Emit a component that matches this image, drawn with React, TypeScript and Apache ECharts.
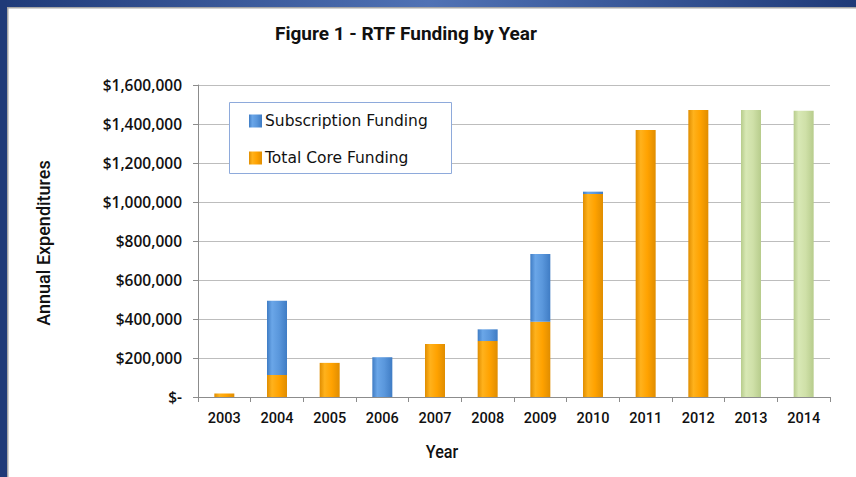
import React, { useEffect, useRef } from "react";
import * as echarts from "echarts";

const years = ["2003", "2004", "2005", "2006", "2007", "2008", "2009", "2010", "2011", "2012", "2013", "2014"];
const coreFunding = [18000, 113000, 175000, 0, 272000, 287000, 386000, 1041000, 1369000, 1472000, 1472000, 1468000];
const subscriptionFunding = [0, 381000, 0, 204000, 0, 60000, 347000, 12000, 0, 0, 0, 0];
const projectedYears = ["2013", "2014"];
const yTicks = { min: 0, max: 1600000, interval: 200000 };

const grad = (edge: string, mid: string, light: string) =>
  new echarts.graphic.LinearGradient(0, 0, 1, 0, [
    { offset: 0, color: edge },
    { offset: 0.25, color: light },
    { offset: 0.6, color: mid },
    { offset: 1, color: edge },
  ]);

export default function App() {
  const ref = useRef<HTMLDivElement>(null);
  useEffect(() => {
    if (!ref.current) return;
    const chart = echarts.init(ref.current, undefined, { renderer: "svg" });
    const orange = grad("#e08d00", "#ffa200", "#ffb21c");
    const blue = grad("#3f7cc4", "#5a97dc", "#6aa6e8");
    const green = grad("#b7cc8c", "#cfe0a8", "#d8e8b5");
    const coreData = coreFunding.map((v, i) =>
      projectedYears.includes(years[i]) ? { value: v, itemStyle: { color: green } } : v
    );
    const font = "Roboto, sans-serif";
    chart.setOption({
      animation: false,
      backgroundColor: "#ffffff",
      grid: { left: 198, right: 26, top: 85, bottom: 80 },
      legend: {
        orient: "vertical",
        left: 244,
        top: 108,
        itemWidth: 13,
        itemHeight: 13,
        itemGap: 21,
        icon: "rect",
        z: 6,
        data: ["Subscription Funding", "Total Core Funding"],
        textStyle: { fontFamily: "DejaVu Sans", fontSize: 15.5, color: "#111", padding: [0, 0, 0, -2], lineHeight: 16 },
      },
      xAxis: {
        type: "category",
        data: years,
        axisLine: { lineStyle: { color: "#8c8c8c" } },
        axisTick: { show: true, length: 5, lineStyle: { color: "#8c8c8c" } },
        axisLabel: { fontFamily: font, fontWeight: 500, fontSize: 14.5, color: "#111", margin: 14 },
      },
      yAxis: {
        type: "value",
        min: yTicks.min,
        max: yTicks.max,
        interval: yTicks.interval,
        axisLine: { show: true, lineStyle: { color: "#8c8c8c" } },
        axisTick: { show: true, length: 5, lineStyle: { color: "#8c8c8c" } },
        splitLine: { lineStyle: { color: "#bdbdbd", width: 1 } },
        axisLabel: {
          fontFamily: "'Open Sans', sans-serif",
          fontWeight: 600,
          fontSize: 15.5,
          color: "#111",
          margin: 16,
          formatter: (v: number) => (v === 0 ? "$-" : "$" + v.toLocaleString("en-US")),
        },
      },
      series: [
        {
          name: "Total Core Funding",
          type: "bar",
          stack: "total",
          barWidth: 20,
          color: orange,
          itemStyle: { color: orange },
          data: coreData,
        },
        {
          name: "Subscription Funding",
          type: "bar",
          stack: "total",
          barWidth: 20,
          color: blue,
          itemStyle: { color: blue },
          data: subscriptionFunding,
        },
      ],
      graphic: [
        {
          type: "rect",
          shape: { x: 0, y: 0, width: 856, height: 7 },
          style: {
            fill: new echarts.graphic.LinearGradient(0, 0, 1, 0, [
              { offset: 0, color: "#1f3a78" },
              { offset: 0.5, color: "#5072b5" },
              { offset: 1, color: "#1f3a78" },
            ]),
          },
          z: 10,
        },
        { type: "rect", shape: { x: 0, y: 0, width: 7, height: 477 }, style: { fill: "#1f3a78" }, z: 10 },
        { type: "rect", shape: { x: 7, y: 7, width: 849, height: 1.5 }, style: { fill: "#a6a6a6" }, z: 10 },
        { type: "rect", shape: { x: 7, y: 7, width: 1.5, height: 470 }, style: { fill: "#a6a6a6" }, z: 10 },
        {
          type: "rect",
          shape: { x: 229.5, y: 102.5, width: 222, height: 71 },
          style: { fill: "#ffffff", stroke: "#8eaadb", lineWidth: 1 },
          z: 2,
        },
        {
          type: "text",
          x: 406,
          y: 33,
          style: {
            text: "Figure 1 - RTF Funding by Year",
            fontFamily: font,
            fontWeight: "bold",
            fontSize: 19,
            fill: "#111",
            align: "center",
            verticalAlign: "middle",
          },
        },
        {
          type: "text",
          x: 442,
          y: 452,
          scaleX: 0.85,
          style: {
            text: "Year",
            fontFamily: font,
            fontWeight: 500,
            fontSize: 19,
            fill: "#111",
            align: "center",
            verticalAlign: "middle",
          },
        },
        {
          type: "text",
          x: 43,
          y: 243,
          rotation: Math.PI / 2,
          style: {
            text: "Annual Expenditures",
            fontFamily: font,
            fontWeight: 500,
            fontSize: 18,
            fill: "#111",
            align: "center",
            verticalAlign: "middle",
          },
        },
      ],
    });
    return () => chart.dispose();
  }, []);
  return <div ref={ref} style={{ position: "absolute", left: 0, top: 0, width: 856, height: 477 }} />;
}
